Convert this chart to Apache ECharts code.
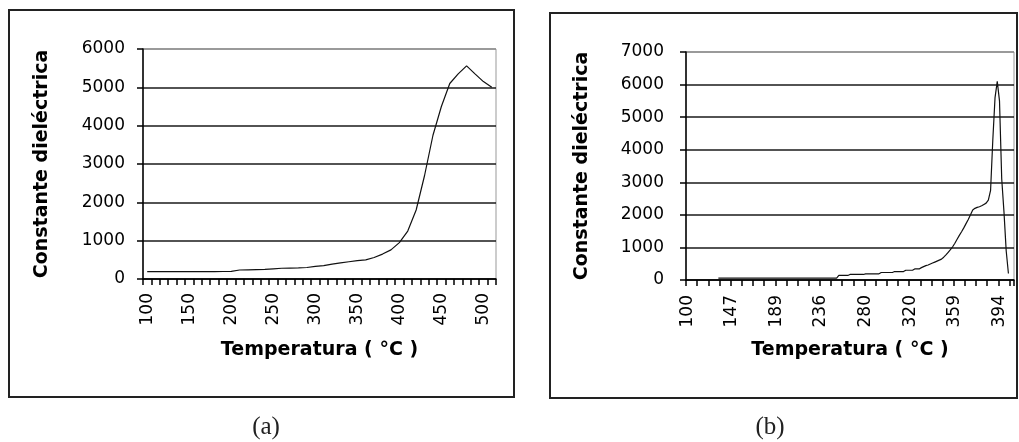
<!DOCTYPE html>
<html><head><meta charset="utf-8">
<script src="https://cdn.jsdelivr.net/npm/echarts@6/dist/echarts.min.js"></script>
<style>html,body{margin:0;padding:0;background:#fff;}#c{width:1019px;height:442px;}</style>
</head><body><div id="c"></div>
<script>
// ---- Chart (a) ----
const tempsA = [100,110,120,130,140,150,160,170,180,190,200,210,220,230,240,250,260,270,280,290,300,
  310,320,330,340,350,360,370,380,390,400,410,420,430,440,450,460,470,480,490,500,510];
const valuesA = [190,190,190,190,190,190,190,190,190,195,200,235,240,245,250,265,280,285,290,300,330,
  350,390,420,450,480,500,560,650,760,950,1250,1800,2700,3750,4500,5100,5350,5560,5350,5150,5000];
const labelStepA = 50;

// ---- Chart (b) ----
const tempsB = [100,102,105,107,109,112,114,116,119,121,123,126,128,130,133,135,137,140,142,145,147,
  149,151,153,155,158,160,162,164,166,168,170,172,174,176,179,181,183,185,187,189,
  191,194,196,198,201,203,205,208,210,212,215,217,219,222,224,226,229,231,233,236,
  238,240,243,245,247,249,251,254,256,258,260,262,265,267,269,271,273,276,278,280,
  282,284,286,288,290,292,294,296,298,300,302,304,306,308,310,312,314,316,318,320,
  322,324,326,328,330,332,334,336,338,340,341,343,345,347,349,351,353,355,357,359,
  361,363,364,366,368,370,371,373,375,377,378,380,382,384,385,387,389,391,392,394,
  396,397,399,401,403,404];
const valuesB = [null,null,null,null,null,null,null,null,null,null,null,null,null,null,
  60,60,60,60,60,60,60,60,60,60,60,60,60,60,60,60,60,60,60,60,60,60,60,60,60,60,60,
  60,60,60,60,60,60,60,60,60,60,60,60,60,60,60,60,60,60,60,60,60,60,60,60,60,60,60,
  140,140,140,140,140,
  170,170,170,170,170,170,170,
  190,190,190,190,190,190,190,
  230,230,230,230,230,230,
  260,260,260,260,260,
  300,300,300,300,
  340,340,340,
  380,410,440,460,490,520,550,580,610,640,700,770,850,930,1020,1130,1250,1370,1480,1600,
  1730,1860,2000,2150,2200,2230,2250,2280,2320,2360,2450,2750,4300,5600,6100,5500,3100,2100,900,200,
  null,null];
const labelTempsB = [100,147,189,236,280,320,359,394];

const yMaxA = 6000, yMaxB = 7000, yStep = 1000;
const yTitle = 'Constante dieléctrica';
const xTitle = 'Temperatura ( °C )';

const FONT = '"DejaVu Sans", sans-serif';
const labelStyle = {fontFamily: FONT, fontSize: 17, color: '#000'};
const nameStyle = {fontFamily: FONT, fontSize: 19, fontWeight: 'bold', color: '#000'};

function splitColors(max) {
  const n = max / yStep + 1;
  const arr = [];
  for (let i = 0; i < n; i++) arr.push(i === n - 1 ? '#8a8a8a' : '#1a1a1a');
  return arr;
}

function yAxisCfg(grid, max, margin, gap) {
  return {
    gridIndex: grid, type: 'value', min: 0, max: max, interval: yStep,
    axisLine: {show: true, lineStyle: {color: '#000', width: 1.5}},
    axisTick: {show: true, length: 6, lineStyle: {color: '#000', width: 1.5}},
    axisLabel: Object.assign({margin: margin, formatter: v => String(v)}, labelStyle),
    splitLine: {show: true, lineStyle: {color: splitColors(max), width: 1.6}},
    name: yTitle, nameLocation: 'middle', nameGap: gap, nameTextStyle: nameStyle
  };
}

const chart = echarts.init(document.getElementById('c'), null, {renderer: 'canvas'});
chart.setOption({
  animation: false,
  backgroundColor: '#fff',
  grid: [
    {left: 143, right: 523, top: 49, bottom: 163, show: true, borderColor: '#999', borderWidth: 1, containLabel: false},
    {left: 686, right: 5, top: 52, bottom: 162, show: true, borderColor: '#999', borderWidth: 1, containLabel: false}
  ],
  xAxis: [
    {
      gridIndex: 0, type: 'category', data: tempsA.map(String), boundaryGap: true,
      axisLine: {lineStyle: {color: '#000', width: 1.5}},
      axisTick: {show: true, interval: 0, length: 6, lineStyle: {color: '#000', width: 1.5}},
      axisLabel: Object.assign({interval: (i, v) => (+v) % labelStepA === 0, rotate: 90, margin: 14}, labelStyle),
      splitLine: {show: false},
      name: xTitle, nameLocation: 'middle', nameGap: 62, nameTextStyle: nameStyle
    },
    {
      gridIndex: 1, type: 'category', data: tempsB.map(String), boundaryGap: true,
      axisLine: {lineStyle: {color: '#000', width: 1.5}},
      axisTick: {show: true, interval: 4, length: 6, lineStyle: {color: '#000', width: 1.5}},
      axisLabel: Object.assign({interval: (i, v) => labelTempsB.indexOf(+v) >= 0, rotate: 90, margin: 15}, labelStyle),
      splitLine: {show: false},
      name: xTitle, nameLocation: 'middle', nameGap: 61, nameTextStyle: nameStyle
    }
  ],
  yAxis: [
    yAxisCfg(0, yMaxA, 18, 91),
    yAxisCfg(1, yMaxB, 22, 94)
  ],
  series: [
    {type: 'line', xAxisIndex: 0, yAxisIndex: 0, data: valuesA, showSymbol: false, symbol: 'none',
     lineStyle: {color: '#111', width: 1.2}, connectNulls: false},
    {type: 'line', xAxisIndex: 1, yAxisIndex: 1, data: valuesB, showSymbol: false, symbol: 'none',
     lineStyle: {color: '#111', width: 1.2}, connectNulls: false}
  ],
  graphic: [
    {type: 'rect', shape: {x: 9, y: 10, width: 505, height: 387}, style: {fill: 'none', stroke: '#222', lineWidth: 2}, silent: true},
    {type: 'rect', shape: {x: 550, y: 13, width: 467, height: 385}, style: {fill: 'none', stroke: '#222', lineWidth: 2}, silent: true},
    {type: 'text', x: 266, y: 427, style: {text: '(a)', font: '25px "Liberation Serif", serif', fill: '#222', align: 'center', verticalAlign: 'middle'}, silent: true},
    {type: 'text', x: 770, y: 427, style: {text: '(b)', font: '25px "Liberation Serif", serif', fill: '#222', align: 'center', verticalAlign: 'middle'}, silent: true}
  ]
});
</script>
</body></html>
